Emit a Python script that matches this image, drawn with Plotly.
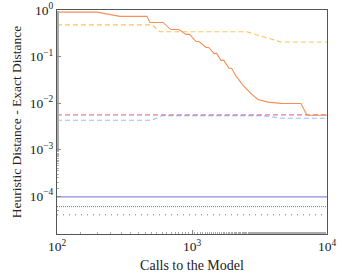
import plotly.graph_objects as go

# Orange solid series
ours_x = [100, 198, 293, 464, 488, 610, 698, 801, 903, 960, 1070, 1130, 1270, 1330, 1455, 1520, 1640, 1720, 1880, 1970, 2120, 2390, 2740, 3080, 3660, 4560, 6410, 7110, 10000]
ours_y = [0.90, 0.90, 0.73, 0.73, 0.54, 0.54, 0.38, 0.38, 0.30, 0.30, 0.21, 0.21, 0.157, 0.157, 0.117, 0.117, 0.083, 0.083, 0.056, 0.056, 0.038, 0.024, 0.016, 0.012, 0.0105, 0.0099, 0.0098, 0.0055, 0.0055]

# Yellow dashed series
yel_x = [100, 505, 580, 2550, 4560, 10000]
yel_y = [0.48, 0.48, 0.34, 0.34, 0.205, 0.205]

# Pink dashed series
pink_x = [100, 10000]
pink_y = [0.0056, 0.0056]

# Blue dashed series
blue_x = [100, 505, 600, 3300, 4560, 10000]
blue_y = [0.0043, 0.0043, 0.0054, 0.0054, 0.00475, 0.00475]

# Constant reference lines
ref_x = [100, 10000]
purple_y = [9.7e-5, 9.7e-5]
gray1_y = [6.0e-5, 6.0e-5]
gray2_y = [4.0e-5, 4.0e-5]

# Tick labels
x_tickvals = [1e2, 1e3, 1e4]
x_ticktext = ["10<sup>2</sup>", "10<sup>3</sup>", "10<sup>4</sup>"]
y_tickvals = [1, 1e-1, 1e-2, 1e-3, 1e-4]
y_ticktext = ["10<sup>0</sup>", "10<sup>−1</sup>", "10<sup>−2</sup>", "10<sup>−3</sup>", "10<sup>−4</sup>"]

fig = go.Figure()
fig.add_trace(go.Scatter(x=ref_x, y=purple_y, mode="lines",
                         line=dict(color="#8c8ce6", width=1.1)))
fig.add_trace(go.Scatter(x=ref_x, y=gray1_y, mode="lines",
                         line=dict(color="#777777", width=1, dash="1px,1px")))
fig.add_trace(go.Scatter(x=ref_x, y=gray2_y, mode="lines",
                         line=dict(color="#777777", width=1, dash="1px,5px")))
fig.add_trace(go.Scatter(x=blue_x, y=blue_y, mode="lines",
                         line=dict(color="#9dbdf7", width=1.1, dash="5px,3px")))
fig.add_trace(go.Scatter(x=pink_x, y=pink_y, mode="lines",
                         line=dict(color="#e37aa4", width=1.1, dash="5px,3px")))
fig.add_trace(go.Scatter(x=yel_x, y=yel_y, mode="lines",
                         line=dict(color="#ffc35c", width=1.1, dash="5px,3px")))
fig.add_trace(go.Scatter(x=ours_x, y=ours_y, mode="lines",
                         line=dict(color="#f78f55", width=1.1)))

font = dict(family="Liberation Serif, DejaVu Serif, serif", size=13, color="#222")

fig.update_layout(
    width=342, height=275,
    margin=dict(l=57, r=15, t=10, b=41),
    paper_bgcolor="white", plot_bgcolor="white",
    showlegend=False,
    font=font,
)
fig.update_xaxes(
    type="log", range=[2, 4], tickvals=x_tickvals, ticktext=x_ticktext,
    automargin=False,
    showgrid=False, zeroline=False,
    showline=True, linecolor="#555", linewidth=1, mirror=True,
    ticks="inside", ticklen=4, tickcolor="#888",
    minor=dict(ticks="inside", ticklen=2, tickcolor="#aaa", showgrid=False),
    title=dict(text="Calls to the Model", font=dict(size=14), standoff=6),
    tickfont=dict(size=13.5),
)
fig.update_yaxes(
    type="log", range=[-4.81, 0], tickvals=y_tickvals, ticktext=y_ticktext,
    automargin=False,
    showgrid=False, zeroline=False,
    showline=True, linecolor="#555", linewidth=1, mirror=True,
    ticks="inside", ticklen=4, tickcolor="#888",
    minor=dict(ticks="inside", ticklen=2, tickcolor="#aaa", showgrid=False),
    title=dict(text="Heuristic Distance - Exact Distance", font=dict(size=13.5), standoff=5),
    tickfont=dict(size=13.5),
)

fig.write_html("out.html", config={"displayModeBar": False},
               post_script="document.body.style.margin='0';document.body.style.overflow='hidden';")
